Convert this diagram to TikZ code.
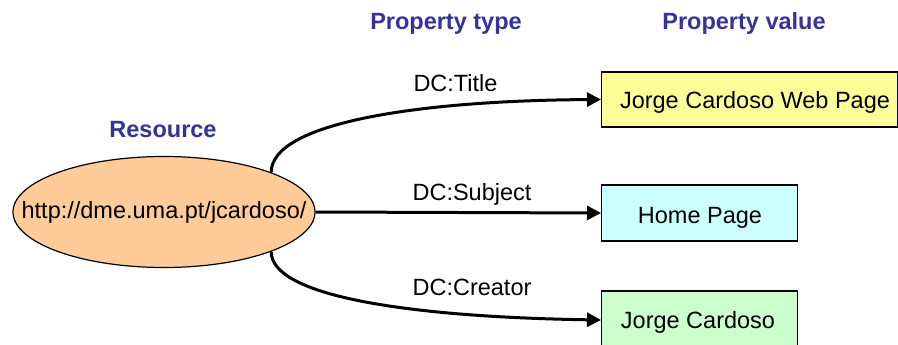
\documentclass[tikz,border=0pt]{standalone}
\usepackage{fontspec}
\setmainfont{Liberation Sans}
\usetikzlibrary{arrows.meta,shapes.geometric}
\definecolor{headblue}{HTML}{333399}
\definecolor{resfill}{HTML}{FFCC99}
\definecolor{yelfill}{HTML}{FFFF99}
\definecolor{cyanfill}{HTML}{CCFFFF}
\definecolor{grnfill}{HTML}{CCFFCC}
\begin{document}
\begin{tikzpicture}[x=1pt,y=-1pt,
  every node/.style={font=\fontsize{23.5}{28}\selectfont},
  heading/.style={text=headblue,font=\fontsize{23.5}{28}\selectfont\bfseries,anchor=base,inner sep=0},
  proplabel/.style={anchor=base,inner sep=0},
  valbox/.style={draw=black,line width=1.2pt,rectangle,inner sep=0,anchor=west},
  relation/.style={line width=3pt,-{Triangle[length=14pt,width=14pt]}}
]
\clip (0,0) rectangle (898,345);
\useasboundingbox (0,0) rectangle (898,345);
% headings
\node[heading] (ptype) at (446,30) {Property type};
\node[heading] (pvalue) at (744,30) {Property value};
\node[heading] (reslbl) at (163,138) {Resource};
% resource
\node[ellipse,draw=black,line width=1.2pt,fill=resfill,minimum width=302pt,minimum height=111pt,inner sep=0] (res) at (164,212) {};
\node[inner sep=0] (restxt) at (res.center) {http://dme.uma.pt/jcardoso/};
% values
\node[valbox,fill=yelfill,minimum width=296pt,minimum height=55pt] (title) at (601,99.5) {};
\node[valbox,fill=cyanfill,minimum width=196pt,minimum height=56pt] (home) at (601,213) {};
\node[valbox,fill=grnfill,minimum width=196pt,minimum height=58pt] (creator) at (601,320) {};
\node[proplabel] (titletxt) at (755,109) {Jorge Cardoso Web Page};
\node[proplabel] (hometxt) at (700,223) {Home Page};
\node[proplabel] (creatortxt) at (698,328) {Jorge Cardoso};
% property labels
\node[proplabel] (dctitle) at (455.5,92) {DC:Title};
\node[proplabel] (dcsubject) at (472,200) {DC:Subject};
\node[proplabel] (dccreator) at (472,295) {DC:Creator};
% connectors
\draw[relation] (res.north east) .. controls +(0,-50) and +(-180,1) .. (title.west);
\draw[relation] (res.east) -- (home.west);
\draw[relation] (res.south east) .. controls +(0,45) and +(-190,-3) .. (creator.west);
\end{tikzpicture}
\end{document}
